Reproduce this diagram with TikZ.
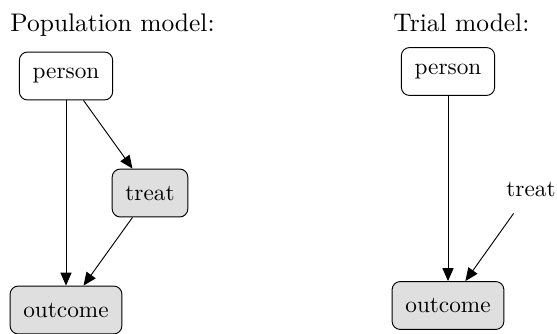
\documentclass[tikz,border=0pt]{standalone}
\usetikzlibrary{arrows.meta}

\begin{document}
\begin{tikzpicture}[x=0.43pt, y=-0.43pt,
		box/.style={draw, rounded corners=3.5pt, inner xsep=5.7pt, minimum height=20.6pt},
		shaded/.style={box, fill=gray!25},
		plain/.style={inner xsep=5.7pt, minimum height=20.6pt},
		heading/.style={anchor=base west, inner sep=0pt, font=\fontsize{10.95}{13.6}\selectfont},
		edge/.style={thin, -{Triangle[length=5.6pt,width=4.8pt]}}]
				\useasboundingbox (0,0) rectangle (557,334);
				% population model
				\node[heading] (poptitle) at (10,32) {Population model:};
				\node[box] (popperson) at (66,76) {person};
				\node[shaded] (poptreat) at (150,193) {treat};
				\node[shaded] (popoutcome) at (66,310) {outcome};
				\draw[edge] (popperson) -- (popoutcome);
				\draw[edge] (popperson) -- (poptreat);
				\draw[edge] (poptreat) -- (popoutcome);
				% trial model
				\node[heading] (trialtitle) at (393,32) {Trial model:};
				\node[box] (trialperson) at (448,71.5) {person};
				\node[plain] (trialtreat) at (531,189) {treat};
				\node[shaded] (trialoutcome) at (448,305.5) {outcome};
				\draw[edge] (trialperson) -- (trialoutcome);
				\draw[edge] (trialtreat) -- (trialoutcome);
			\end{tikzpicture}
\end{document}
